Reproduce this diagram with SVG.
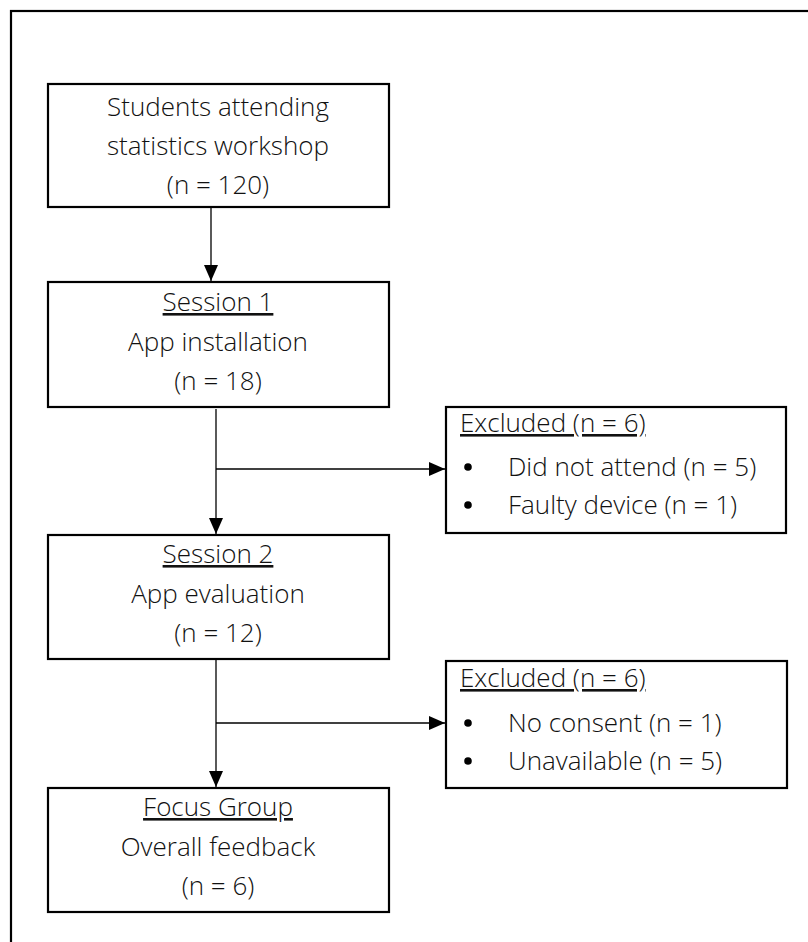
<svg xmlns="http://www.w3.org/2000/svg" width="808" height="942" viewBox="0 0 808 942">
<style>
.box{fill:#fff;stroke:#000;stroke-width:2.2}
.t{font-family:"Open Sans","Noto Sans","Liberation Sans",sans-serif;font-weight:300;font-size:26px;fill:#111;text-anchor:middle}
.e{font-family:"Open Sans","Noto Sans","Liberation Sans",sans-serif;font-weight:300;font-size:26px;fill:#111}
.u{text-decoration:underline}
.c{stroke:#000;stroke-width:1.3;fill:none}
</style>
<defs>
<marker id="ah" viewBox="0 0 16 14" refX="16" refY="7" markerWidth="16" markerHeight="14" markerUnits="userSpaceOnUse" orient="auto">
<path d="M0,0 L16,7 L0,14 Z" fill="#000"/>
</marker>
</defs>
<rect x="11" y="11" width="820" height="960" fill="none" stroke="#000" stroke-width="2.2"/>
<g id="connectors">
<line class="c" x1="211" y1="208" x2="211" y2="281" marker-end="url(#ah)"/>
<line class="c" x1="216" y1="409" x2="216" y2="534" marker-end="url(#ah)"/>
<line class="c" x1="216" y1="469" x2="445" y2="469" marker-end="url(#ah)"/>
<line class="c" x1="216" y1="660" x2="216" y2="787" marker-end="url(#ah)"/>
<line class="c" x1="216" y1="723" x2="445" y2="723" marker-end="url(#ah)"/>
</g>
<g id="n1">
<rect class="box" x="48" y="84" width="341" height="123"/>
<text class="t" x="218" y="116">Students attending</text>
<text class="t" x="218" y="155">statistics workshop</text>
<text class="t" x="218" y="194">(n = 120)</text>
</g>
<g id="n2">
<rect class="box" x="48" y="282" width="341" height="125"/>
<text class="t u" x="218" y="311">Session 1</text>
<text class="t" x="218" y="351">App installation</text>
<text class="t" x="218" y="390">(n = 18)</text>
</g>
<g id="n3">
<rect class="box" x="48" y="535" width="341" height="124"/>
<text class="t u" x="218" y="563">Session 2</text>
<text class="t" x="218" y="603">App evaluation</text>
<text class="t" x="218" y="642">(n = 12)</text>
</g>
<g id="n4">
<rect class="box" x="48" y="788" width="341" height="124"/>
<text class="t u" x="218" y="816">Focus Group</text>
<text class="t" x="218" y="856">Overall feedback</text>
<text class="t" x="218" y="895">(n = 6)</text>
</g>
<g id="x1">
<rect class="box" x="446" y="407" width="340" height="126"/>
<text class="e u" x="460" y="432">Excluded (n = 6)</text>
<circle cx="468" cy="467" r="3.8" fill="#000"/>
<text class="e" x="508" y="476">Did not attend (n = 5)</text>
<circle cx="468" cy="505" r="3.8" fill="#000"/>
<text class="e" x="508" y="514">Faulty device (n = 1)</text>
</g>
<g id="x2">
<rect class="box" x="446" y="661" width="341" height="127"/>
<text class="e u" x="460" y="687">Excluded (n = 6)</text>
<circle cx="468" cy="723" r="3.8" fill="#000"/>
<text class="e" x="508" y="732">No consent (n = 1)</text>
<circle cx="468" cy="761" r="3.8" fill="#000"/>
<text class="e" x="508" y="770">Unavailable (n = 5)</text>
</g>
</svg>
